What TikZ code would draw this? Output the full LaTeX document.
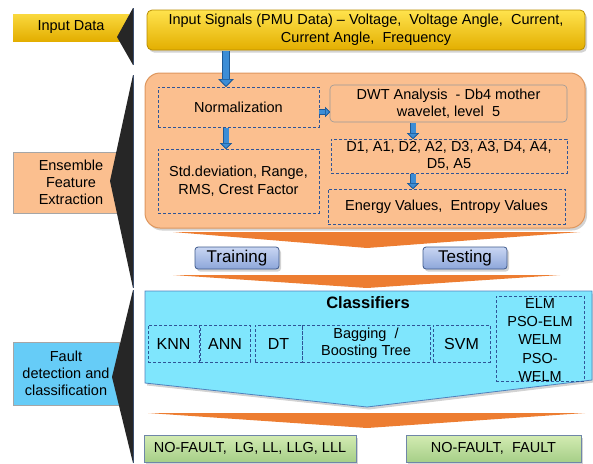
\documentclass[tikz,border=0pt]{standalone}
\usepackage{fontspec}
\setmainfont{Liberation Sans}
\usetikzlibrary{shadows,arrows.meta,calc}
\definecolor{goldT}{HTML}{FFE34D}
\definecolor{goldB}{HTML}{E3AE00}
\definecolor{goldE}{HTML}{B88C00}
\definecolor{peach}{HTML}{FBBF8F}
\definecolor{peachE}{HTML}{DE975F}
\definecolor{band}{HTML}{ED7D31}
\definecolor{cyanF}{HTML}{7FE6FD}
\definecolor{cyanE}{HTML}{4F81BD}
\definecolor{faultF}{HTML}{66CCF7}
\definecolor{dashB}{HTML}{2F5597}
\definecolor{btnT}{HTML}{C9D6F2}
\definecolor{btnB}{HTML}{8DA6DA}
\definecolor{btnE}{HTML}{3F5A8C}
\definecolor{grnT}{HTML}{D3EBB2}
\definecolor{grnB}{HTML}{A6CF88}
\definecolor{grnE}{HTML}{6F86A8}
\definecolor{arrB}{HTML}{3C8DD6}
\definecolor{arrD}{HTML}{1E5A96}
\definecolor{triK}{HTML}{262626}
\definecolor{triE}{HTML}{3B4E6E}
\begin{document}
\begin{tikzpicture}[x=1pt,y=-1pt,
  font=\fontsize{14.5}{17}\selectfont,
  base/.style={inner sep=0pt, outer sep=0pt, align=center},
  sidelabel/.style={base, draw=gray!70, line width=0.6pt},
  dbox/.style={base, draw=dashB, line width=0.8pt, dash pattern=on 3pt off 2pt},
  shad/.style={drop shadow={shadow xshift=2pt, shadow yshift=-2.5pt, opacity=0.35}},
  barrow/.style={draw=arrB, line width=6pt, shorten <=1pt,
     -{Triangle[length=8pt,width=15pt,fill=arrB,color=arrD,line width=0.7pt]},
     preaction={draw=arrD, line width=7.4pt, -{Triangle[length=8pt,width=15pt]}}},
  sarrow/.style={draw=arrB, line width=5pt, shorten <=1pt,
     -{Triangle[length=6pt,width=12pt,fill=arrB,color=arrD,line width=0.7pt]},
     preaction={draw=arrD, line width=6.4pt, -{Triangle[length=6pt,width=12pt]}}},
  harrow/.style={draw=arrB, line width=4pt,
     -{Triangle[length=5pt,width=10pt,fill=arrB,color=arrD,line width=0.6pt]},
     preaction={draw=arrD, line width=5.2pt, -{Triangle[length=5pt,width=10pt]}}},
  btn/.style={base, rounded corners=3pt, top color=btnT, bottom color=btnB, draw=btnE, line width=0.8pt, shad, font=\fontsize{17}{20}\selectfont},
  grn/.style={base, top color=grnT, bottom color=grnB, draw=grnE, line width=0.8pt, shad},
  bandst/.style={fill=band},
  tri/.style={fill=triK},
]
\useasboundingbox (0,0) rectangle (593,463);

% ---- side labels ----
\node[sidelabel, draw=none, top color=goldT!80!goldB, bottom color=goldB, minimum width=116pt, minimum height=27pt] (lin) at (71,27.5) {Input Data};
\node[sidelabel, fill=peach, minimum width=116pt, minimum height=61pt] (lens) at (71,182.5) {Ensemble\\Feature\\Extraction};
\node[sidelabel, fill=faultF, minimum width=106pt, minimum height=63pt] (lfault) at (66,373.5) {Fault\\detection and\\classification};

% ---- black brackets ----
\fill[tri] (133,8) -- (117,37) -- (133,65) -- cycle;
\draw[triE, line width=0.6pt] (133,8) -- (133,65);
\fill[tri] (133,75) -- (110,181) -- (133,288) -- cycle;
\draw[triE, line width=0.6pt] (133,75) -- (133,288);
\fill[tri] (133,290) -- (112,377) -- (133,463) -- cycle;
\draw[triE, line width=0.6pt] (133,290) -- (133,463);

% ---- orange chevron bands ----
\fill[bandst] (173,232) -- (580,232) -- (367,248) -- cycle;
\fill[bandst] (173,275) -- (560,275) -- (367,288) -- cycle;
\fill[bandst] (148,413) -- (585,413) -- (367,428) -- cycle;

% ---- input signals ----
\node[base, rounded corners=5pt, top color=goldT, bottom color=goldB, draw=goldE, line width=0.8pt, shad,
      minimum width=438pt, minimum height=40pt, font=\fontsize{14.5}{18}\selectfont] (inp) at (366,30)
  {Input Signals (PMU Data) -- Voltage,\ \ Voltage Angle,\ \ Current,\\Current Angle,\ \ Frequency};

% ---- feature extraction box ----
\node[base, rounded corners=15pt, fill=peach, draw=peachE, line width=1pt, shad,
      minimum width=440pt, minimum height=155pt] (fe) at (365,150.5) {};
\node[dbox, minimum width=161pt, minimum height=40pt] (norm) at (238.5,107) {Normalization};
\node[dbox, minimum width=161pt, minimum height=64pt, font=\fontsize{14.5}{18}\selectfont] (std) at (238.5,181) {Std.deviation, Range,\\RMS, Crest Factor};
\node[base, rounded corners=4pt, draw=gray!80, line width=0.6pt, minimum width=237pt, minimum height=37pt, font=\fontsize{14.5}{16.5}\selectfont] (dwt) at (448.5,103.5) {DWT Analysis\ \ - Db4 mother\\wavelet, level\ \ 5};
\node[dbox, minimum width=236pt, minimum height=34pt] (dc) at (449,156) {D1, A1, D2, A2, D3, A3, D4, A4,\\D5, A5};
\node[dbox, minimum width=237pt, minimum height=35pt] (en) at (446.5,206.5) {Energy Values,\ \ Entropy Values};

\coordinate (ax) at (226,0);
\coordinate (bx) at (413,0);
\coordinate (ay) at (0,112);
\draw[barrow] (inp.south -| ax) -- (norm.north -| ax);
\draw[sarrow] (norm.south -| ax) -- (std.north -| ax);
\draw[harrow] (norm.east |- ay) -- (dwt.west |- ay);
\draw[sarrow] (dwt.south -| bx) -- (dc.north -| bx);
\draw[sarrow] (dc.south -| bx) -- (en.north -| bx);

% ---- training / testing ----
\node[btn, minimum width=84pt, minimum height=22pt] (train) at (237,258) {Training};
\node[btn, minimum width=84pt, minimum height=22pt] (test) at (465,258) {Testing};

% ---- classifiers ----
\fill[cyanF, drop shadow={shadow xshift=2pt, shadow yshift=-2.5pt, opacity=0.35}] (145,291) -- (592,291) -- (592,380) -- (367,407) -- (145,383) -- cycle;
\draw[cyanE, line width=0.8pt] (145,291) -- (592,291) -- (592,380) -- (367,407) -- (145,383) -- cycle;
\node[base, font=\bfseries\fontsize{16.5}{19}\selectfont] (cls) at (368,303) {Classifiers};
\node[dbox, minimum width=51pt, minimum height=37pt, font=\fontsize{16}{19}\selectfont] (knn) at (173.5,343.5) {KNN};
\node[dbox, minimum width=50pt, minimum height=37pt, font=\fontsize{16}{19}\selectfont] (ann) at (225,343.5) {ANN};
\node[dbox, minimum width=47pt, minimum height=37pt, font=\fontsize{16}{19}\selectfont] (dt) at (278.5,343.5) {DT};
\node[dbox, minimum width=128pt, minimum height=37pt] (bag) at (366,343.5) {Bagging\ \ /\\Boosting Tree};
\node[dbox, minimum width=57pt, minimum height=37pt, font=\fontsize{16}{19}\selectfont] (svm) at (461.5,343.5) {SVM};
\node[dbox, minimum width=88pt, minimum height=85pt] (elm) at (540,338.5) {};
\node[base, font=\fontsize{14.5}{18.2}\selectfont] (elmt) at (540,340) {ELM\\PSO-ELM\\WELM\\PSO-\\WELM};

% ---- outputs ----
\node[grn, minimum width=212pt, minimum height=27pt] (out1) at (250,448.5) {NO-FAULT,\ \ LG, LL, LLG, LLL};
\node[grn, minimum width=175pt, minimum height=27pt] (out2) at (493.5,448.5) {NO-FAULT,\ \ FAULT};
\end{tikzpicture}
\end{document}
